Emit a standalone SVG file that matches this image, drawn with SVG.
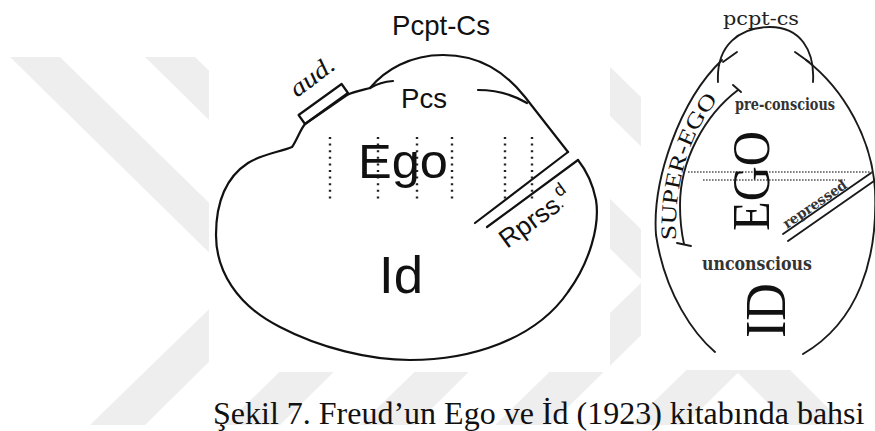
<svg xmlns="http://www.w3.org/2000/svg" width="875" height="431" viewBox="0 0 875 431">
<defs>
<style>
.wm{fill:#eeeeee}
.ln{fill:none;stroke:#111;stroke-width:2.2;stroke-linecap:round;stroke-linejoin:round}
.ln2{fill:none;stroke:#1a1a1a;stroke-width:1.9;stroke-linecap:round;stroke-linejoin:round}
.dot{fill:none;stroke:#222;stroke-width:2.4;stroke-dasharray:2 4.6}
.hdot{fill:none;stroke:#555;stroke-width:1.6;stroke-dasharray:1.6 1.4}
.sans{font-family:"Liberation Sans","DejaVu Sans",sans-serif;fill:#111}
.serif{font-family:"Liberation Serif","DejaVu Serif",serif;fill:#111}
.slab{font-family:"DejaVu Serif","Liberation Serif",serif;fill:#333;font-weight:bold}
.slabn{font-family:"DejaVu Serif","Liberation Serif",serif;fill:#222;font-weight:normal}
</style>
</defs>
<rect width="875" height="431" fill="#ffffff"/>
<g id="watermark">
<polygon class="wm" points="10,57 60,57 290,282 145,425 90,425 238,281"/>
<polygon class="wm" points="145,57 195,57 425,282 280,425 225,425 373,281"/>
<polygon class="wm" points="280,57 330,57 560,282 415,425 360,425 508,281"/>
<polygon class="wm" points="415,57 465,57 695,282 550,425 495,425 643,281"/>
<polygon class="wm" points="550,57 600,57 830,282 685,425 630,425 778,281"/>
<polygon class="wm" points="720,355 775,355 845,425 790,425"/>
</g>
<rect x="209" y="0" width="401" height="372" fill="#ffffff"/>
<rect x="641" y="0" width="234" height="370" fill="#ffffff"/>

<g id="left-figure">
<g id="outline">
<path class="ln" d="M370,88 C362,90 352,92 347,95 L305,124 C300,130 297,140 292,147 C280,152 262,154 248,163 C225,178 216,205 216,235 C216,270 236,305 280,327 C320,348 370,360 410,360 C470,360 535,340 568,292 C590,262 600,225 596,200 C593,185 586,170 578,160"/>
<path class="ln" d="M370,88 C385,70 410,55 443,55 C480,55 505,72 525,97 L568,152"/>
</g>
<g id="pcs-boundary">
<path class="ln" d="M370,88 Q380,82 393,81"/>
<path class="ln" d="M478,90 Q505,90 527,103"/>
</g>
<g id="aud-box">
<polygon class="ln" points="298.6,115 305,124 348,93 341.6,84"/>
<text class="serif" font-style="italic" font-size="25" transform="translate(297,98) rotate(-37)" textLength="50" lengthAdjust="spacingAndGlyphs">aud.</text>
</g>
<g id="repressed-lines">
<line class="ln" x1="568" y1="152" x2="475" y2="223"/>
<line class="ln" x1="578" y1="160" x2="487" y2="227"/>
<text class="sans" font-size="26" transform="translate(507,249) rotate(-36)">Rprss<tspan font-size="16" dy="-1">.</tspan><tspan font-size="18" dy="-10">d</tspan></text>
</g>
<g id="dotted">
<line class="dot" x1="330" y1="137" x2="330" y2="199"/>
<line class="dot" x1="378" y1="137" x2="378" y2="199"/>
<line class="dot" x1="417" y1="137" x2="417" y2="199"/>
<line class="dot" x1="452" y1="137" x2="452" y2="199"/>
<line class="dot" x1="505" y1="137" x2="505" y2="199"/>
<line class="dot" x1="532" y1="137" x2="532" y2="199"/>
</g>
<g id="label-pcpt-cs"><text class="sans" x="392" y="35" font-size="28" textLength="98" lengthAdjust="spacingAndGlyphs">Pcpt-Cs</text></g>
<g id="label-pcs"><text class="sans" x="401" y="108" font-size="28" textLength="46" lengthAdjust="spacingAndGlyphs">Pcs</text></g>
<g id="label-ego"><text class="sans" x="358" y="178" font-size="49" textLength="90" lengthAdjust="spacingAndGlyphs">Ego</text></g>
<g id="label-id"><text class="sans" x="379" y="293" font-size="52" textLength="44" lengthAdjust="spacingAndGlyphs">Id</text></g>
</g>

<g id="right-figure">
<g id="egg">
<path class="ln2" d="M715,352 C695,335 665,295 656,235 C652,180 680,100 722,60"/>
<path class="ln2" d="M718,82 C716,45 740,27 770,27 C800,27 815,50 813,82"/>
<path class="ln2" d="M806,60 C845,90 872,140 875,190 C878,260 858,322 803,354"/>
<path class="ln2" d="M737,52 L723,62"/>
<path class="ln2" d="M795,52 L809,62"/>
</g>
<g id="super-ego">
<path class="ln2" d="M738,90 C705,115 680,160 680,205 C680,225 682,235 684,244"/>
<path class="ln2" d="M733,85 L741,92"/>
<path class="ln2" d="M677,243 L691,246"/>
<path id="sepath" d="M676,240 C674,190 686,135 722,95" fill="none"/>
<text class="serif" font-size="22"><textPath href="#sepath" textLength="150" lengthAdjust="spacingAndGlyphs">SUPER-EGO</textPath></text>
</g>
<g id="label-pcpt-cs-r"><text class="slabn" x="723" y="25" font-size="19" textLength="76" lengthAdjust="spacingAndGlyphs">pcpt-cs</text></g>
<g id="label-preconscious"><text class="slab" x="735" y="110" font-size="16" textLength="100" lengthAdjust="spacingAndGlyphs">pre-conscious</text></g>
<g id="dotted-r">
<line class="hdot" x1="688" y1="172" x2="872" y2="172"/>
<line class="hdot" x1="703" y1="180" x2="845" y2="180"/>
</g>
<g id="repressed-r">
<line class="ln2" x1="783" y1="234" x2="871" y2="173"/>
<line class="ln2" x1="788" y1="241" x2="874" y2="181"/>
<text class="slab" font-size="14" transform="translate(787,229) rotate(-34.5)" textLength="74" lengthAdjust="spacingAndGlyphs">repressed</text>
</g>
<g id="label-ego-r"><text class="serif" font-size="52" transform="translate(769,231) rotate(-90)" textLength="100" lengthAdjust="spacingAndGlyphs">EGO</text></g>
<g id="label-unconscious"><text class="slab" x="702" y="270" font-size="18" textLength="110" lengthAdjust="spacingAndGlyphs">unconscious</text></g>
<g id="label-id-r"><text class="serif" font-size="58" transform="translate(785,338) rotate(-90)" textLength="55" lengthAdjust="spacingAndGlyphs">ID</text></g>
</g>

<g id="caption"><text class="serif" x="213" y="424" font-size="32" fill="#000">Şekil 7. Freud’un Ego ve İd (1923) kitabında bahsi</text></g>
</svg>
